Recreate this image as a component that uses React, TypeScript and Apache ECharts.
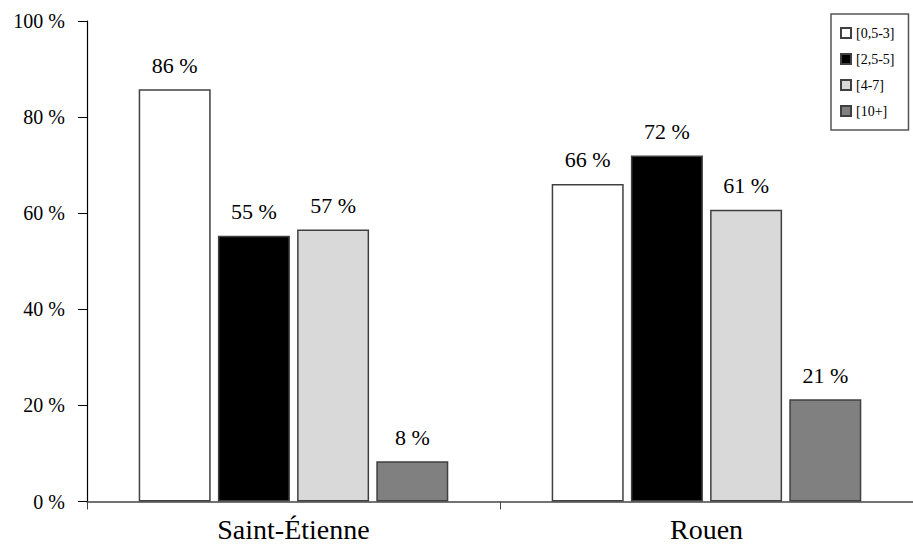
import React, { useEffect, useRef } from "react";
import * as echarts from "echarts";

const categories = ["Saint-Étienne", "Rouen"];
const seriesNames = ["[0,5-3]", "[2,5-5]", "[4-7]", "[10+]"];
const values0 = [85.8, 66.1];
const values1 = [55.3, 72.0];
const values2 = [56.6, 60.7];
const values3 = [8.4, 21.3];
const labels0 = ["86 %", "66 %"];
const labels1 = ["55 %", "72 %"];
const labels2 = ["57 %", "61 %"];
const labels3 = ["8 %", "21 %"];
const yTicks = [0, 20, 40, 60, 80, 100];

const colors = ["#ffffff", "#000000", "#d9d9d9", "#808080"];
const FONT = "Liberation Serif";

export default function App() {
  const ref = useRef<HTMLDivElement>(null);
  useEffect(() => {
    if (!ref.current) return;
    const chart = echarts.init(ref.current, undefined, { renderer: "svg" });
    const allValues = [values0, values1, values2, values3];
    const allLabels = [labels0, labels1, labels2, labels3];
    chart.setOption({
      animation: false,
      backgroundColor: "#ffffff",
      textStyle: { fontFamily: FONT },
      grid: { left: 87, right: -5, top: 21, bottom: 47.5 },
      legend: {
        orient: "vertical",
        left: 831,
        top: 14,
        padding: [12, 14, 12, 9],
        itemGap: 12,
        itemWidth: 10,
        itemHeight: 10,
        borderColor: "#555555",
        borderWidth: 1.5,
        icon: "rect",
        textStyle: { fontFamily: FONT, fontSize: 14, color: "#000" },
        data: seriesNames,
      },
      xAxis: {
        type: "category",
        data: categories,
        axisLine: { lineStyle: { color: "#444", width: 1.5 } },
        axisTick: { show: true, inside: false, length: 8, alignWithLabel: false, lineStyle: { color: "#444" } },
        axisLabel: { fontFamily: FONT, fontSize: 28, color: "#000", margin: 14 },
      },
      yAxis: {
        type: "value",
        min: 0,
        max: 100,
        interval: 20,
        splitLine: { show: false },
        axisLine: { show: true, lineStyle: { color: "#000", width: 1.2 } },
        axisTick: { show: true, length: 9, lineStyle: { color: "#000" } },
        axisLabel: {
          fontFamily: FONT,
          fontSize: 20,
          color: "#000",
          margin: 22,
          formatter: (v: number) => (yTicks.includes(v) ? `${v} %` : ""),
        },
      },
      series: seriesNames.map((name, i) => ({
        name,
        type: "bar",
        barWidth: 72,
        barGap: "10%",
        data: allValues[i],
        itemStyle: { color: colors[i], borderColor: "#404040", borderWidth: 1.5 },
        label: {
          show: true,
          position: "top",
          distance: 13,
          fontFamily: FONT,
          fontSize: 22,
          color: "#000",
          formatter: (p: any) => allLabels[i][p.dataIndex],
        },
      })),
    });
    return () => chart.dispose();
  }, []);
  return <div ref={ref} style={{ width: 913, height: 549, position: "absolute", left: 0, top: 0 }} />;
}
